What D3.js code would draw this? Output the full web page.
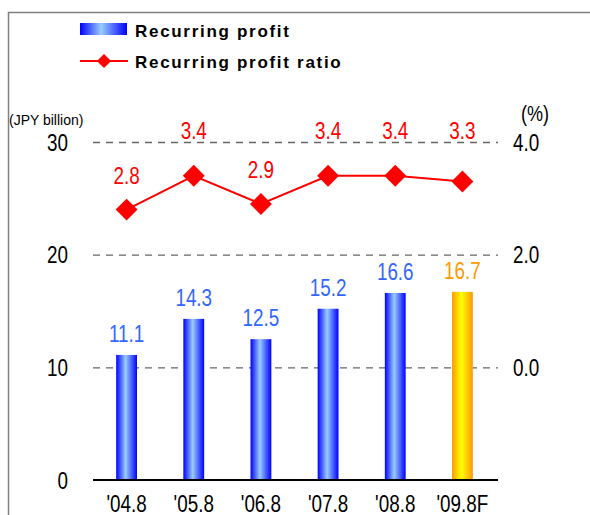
<!DOCTYPE html>
<html>
<head>
<meta charset="utf-8">
<script src="https://cdn.jsdelivr.net/npm/d3@7"></script>
<style>
  body { margin: 0; background: #fff; }
  svg { display: block; }
  .num { font-family: "Liberation Sans", Arial, sans-serif; font-size: 23px; }
  .leg { font-family: "Liberation Sans", Arial, sans-serif; font-weight: bold; font-size: 17px; letter-spacing: 1.7px; }
</style>
</head>
<body>
<div id="chart"></div>
<script>
// chart data
var years = ["'04.8", "'05.8", "'06.8", "'07.8", "'08.8", "'09.8F"];
var profit = [11.1, 14.3, 12.5, 15.2, 16.6, 16.7];
var ratio = [2.8, 3.4, 2.9, 3.4, 3.4, 3.3];
var leftTicks = [0, 10, 20, 30];
var rightTicks = [0, 2, 4];

var width = 590, height = 515;
var squeezeK = 0.82; // the original font is a narrow gothic

var svg = d3.select("#chart")
  .append("svg")
  .attr("width", width)
  .attr("height", height);

// squeeze text horizontally around its own anchor point
function squeeze(sel) {
  sel.each(function() {
    var t = d3.select(this);
    var tx = +t.attr("x") || 0, ty = +t.attr("y") || 0;
    var old = t.attr("transform") || "";
    t.attr("x", 0).attr("y", 0)
      .attr("transform", old + "translate(" + tx + "," + ty + ")scale(" + squeezeK + ",1)");
  });
}

// gradients for the bars
var defs = svg.append("defs");
function gradient(id, edge, mid) {
  var g = defs.append("linearGradient").attr("id", id)
    .attr("x1", "0%").attr("x2", "100%").attr("y1", "0%").attr("y2", "0%");
  g.append("stop").attr("offset", "0%").attr("stop-color", edge);
  g.append("stop").attr("offset", "45%").attr("stop-color", mid);
  g.append("stop").attr("offset", "100%").attr("stop-color", edge);
}
gradient("blueBar", "#0000ff", "#99ccff");
gradient("goldBar", "#ff9900", "#ffff00");

// title cut off at the top of the slide
svg.append("text")
  .attr("class", "leg")
  .attr("x", 150).attr("y", -7)
  .attr("fill", "#333")
  .style("font-size", "26px")
  .text("Recurring profit");

// frame
svg.append("path")
  .attr("d", "M8.5," + height + "V12.5H" + width)
  .attr("fill", "none")
  .attr("stroke", "#808080")
  .attr("stroke-width", 1.5);

// scales
var x = d3.scaleBand().domain(years).range([93, 496]).paddingInner(0.69).paddingOuter(0.345);
var yL = d3.scaleLinear().domain([0, 30]).range([480, 142]);
var yR = d3.scaleLinear().domain([-2, 4]).range([480, 142]);

// dashed grid
var grid = svg.append("g")
  .attr("transform", "translate(93,0)")
  .call(d3.axisLeft(yL).tickValues(leftTicks.slice(1)).tickSize(-405).tickFormat(""));
grid.select(".domain").remove();
grid.selectAll("line").attr("stroke", "#666").attr("stroke-width", 1.3).attr("stroke-dasharray", "7,6");

// left axis labels
var axL = svg.append("g")
  .attr("transform", "translate(93,0)")
  .call(d3.axisLeft(yL).tickValues(leftTicks).tickSize(0).tickPadding(25));
axL.select(".domain").remove();
axL.selectAll("text").attr("class", "num").attr("fill", "#000").attr("dy", null).attr("y", 8).call(squeeze);

// right axis labels
var axR = svg.append("g")
  .attr("transform", "translate(498,0)")
  .call(d3.axisRight(yR).tickValues(rightTicks).tickSize(0).tickPadding(15).tickFormat(d3.format(".1f")));
axR.select(".domain").remove();
axR.selectAll("text").attr("class", "num").attr("fill", "#000").attr("dy", null).attr("y", 8).call(squeeze);

// unit labels
svg.append("text")
  .attr("x", 9).attr("y", 125)
  .style("font-family", "'Liberation Sans', Arial, sans-serif")
  .style("font-size", "14px")
  .text("(JPY billion)");
svg.append("text")
  .attr("class", "num")
  .attr("x", 521).attr("y", 121)
  .style("font-size", "22px")
  .text("(%)")
  .call(squeeze);

// bars
svg.selectAll(".bar")
  .data(profit)
  .enter().append("rect")
  .attr("class", "bar")
  .attr("x", function(d, i) { return x(years[i]); })
  .attr("width", x.bandwidth())
  .attr("y", function(d) { return yL(d); })
  .attr("height", function(d) { return yL(0) - yL(d); })
  .attr("fill", function(d, i) { return i == years.length - 1 ? "url(#goldBar)" : "url(#blueBar)"; });

// bar value labels
svg.selectAll(".barLabel")
  .data(profit)
  .enter().append("text")
  .attr("class", "num")
  .attr("text-anchor", "middle")
  .attr("x", function(d, i) { return x(years[i]) + x.bandwidth() / 2; })
  .attr("y", function(d) { return yL(d) - 13; })
  .attr("fill", function(d, i) { return i == years.length - 1 ? "#ff9900" : "#3366ff"; })
  .text(function(d) { return d.toFixed(1); })
  .call(squeeze);

// base line
svg.append("line")
  .attr("x1", 93).attr("x2", 498)
  .attr("y1", yL(0)).attr("y2", yL(0))
  .attr("stroke", "#000").attr("stroke-width", 2);

// category labels
svg.selectAll(".cat")
  .data(years)
  .enter().append("text")
  .attr("class", "num")
  .attr("text-anchor", "middle")
  .attr("x", function(d) { return x(d) + x.bandwidth() / 2; })
  .attr("y", 512)
  .text(function(d) { return d; })
  .call(squeeze);

// ratio line
var cx = function(d, i) { return x(years[i]) + x.bandwidth() / 2; };
var line = d3.line().x(cx).y(function(d) { return yR(d); });
svg.append("path")
  .datum(ratio)
  .attr("d", line)
  .attr("fill", "none")
  .attr("stroke", "#ff0000")
  .attr("stroke-width", 2);

var diamond = d3.symbol().type(d3.symbolSquare).size(240);
svg.selectAll(".mark")
  .data(ratio)
  .enter().append("path")
  .attr("d", diamond)
  .attr("transform", function(d, i) { return "translate(" + cx(d, i) + "," + yR(d) + ")rotate(45)"; })
  .attr("fill", "#ff0000");

// ratio labels, pushed up off the 30 grid line when they would sit on it
function ratioLabelY(d) {
  var c = yR(d) - 34, g = yL(30);
  if (Math.abs(c - g) < 12) c = g - 11;
  return c + 8;
}
svg.selectAll(".ratioLabel")
  .data(ratio)
  .enter().append("text")
  .attr("class", "num")
  .attr("text-anchor", "middle")
  .attr("x", cx)
  .attr("y", ratioLabelY)
  .attr("fill", "#ff0000")
  .text(function(d) { return d.toFixed(1); })
  .call(squeeze);

// legend
var leg = svg.append("g");
leg.append("rect")
  .attr("x", 80).attr("y", 23).attr("width", 47).attr("height", 12)
  .attr("fill", "url(#blueBar)");
leg.append("text").attr("class", "leg").attr("x", 135).attr("y", 37).text("Recurring profit");
leg.append("line")
  .attr("x1", 80).attr("x2", 128).attr("y1", 61).attr("y2", 61)
  .attr("stroke", "#ff0000").attr("stroke-width", 2);
leg.append("path")
  .attr("d", d3.symbol().type(d3.symbolSquare).size(100))
  .attr("transform", "translate(104,61)rotate(45)")
  .attr("fill", "#ff0000");
leg.append("text").attr("class", "leg").attr("x", 135).attr("y", 68).text("Recurring profit ratio");
</script>
</body>
</html>
